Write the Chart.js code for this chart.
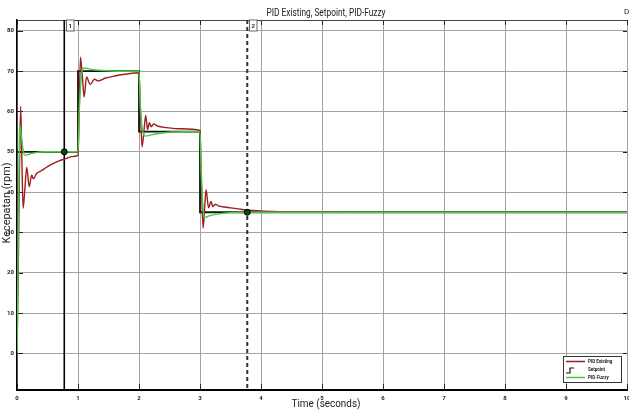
<!DOCTYPE html>
<html>
<head>
<meta charset="utf-8">
<script src="https://cdn.jsdelivr.net/npm/chart.js@4.4.1/dist/chart.umd.min.js"></script>
<style>
  html, body { margin: 0; padding: 0; background: #fff; }
  canvas { display: block; }
</style>
</head>
<body>
<canvas id="c" width="629" height="412"></canvas>
<script>
// Labels
const chartTitle = 'PID Existing, Setpoint, PID-Fuzzy';
const xAxisTitle = 'Time (seconds)';
const yAxisTitle = 'Kecepatan (rpm)';
const seriesNames = ['PID Existing', 'Setpoint', 'PID-Fuzzy'];

// Axis ticks
const xTicks = [0, 1, 2, 3, 4, 5, 6, 7, 8, 9, 10];
const yTicks = [0, 10, 20, 30, 40, 50, 60, 70, 80];

// Setpoint steps (value holds from each time onward)
const setpointTime  = [0, 1, 2, 3, 10];
const setpointValue = [50, 70, 55, 35, 35];

// PID Existing response
const pidTime  = [0, 0.02, 0.04, 0.06, 0.08, 0.1, 0.13, 0.16, 0.2, 0.24, 0.27, 0.32, 0.4, 0.5, 0.6, 0.7, 0.8, 0.9, 1.0,
                  1.02, 1.04, 1.07, 1.1, 1.14, 1.2, 1.27, 1.33, 1.45, 1.6, 1.8, 2.0,
                  2.02, 2.05, 2.08, 2.11, 2.14, 2.17, 2.2, 2.24, 2.3, 2.45, 2.7, 3.0,
                  3.02, 3.05, 3.08, 3.1, 3.14, 3.18, 3.21, 3.25, 3.3, 3.4, 3.6, 3.8, 4.2, 4.8, 5.5, 10];
const pidValue = [0, 20, 45, 61.3, 48, 36, 41, 46.2, 41.3, 44.2, 43.3, 44.6, 45.3, 46.3, 47.1, 47.8, 48.3, 48.8, 49.1,
                  60, 73.5, 69, 63.6, 68.6, 66.7, 68.0, 67.6, 68.3, 68.8, 69.3, 69.6,
                  62, 51.2, 55, 59, 55.5, 57.2, 56.2, 56.9, 56.4, 56.0, 55.7, 55.3,
                  45, 31, 37, 40.6, 36.1, 37.7, 36.4, 37, 36.6, 36.3, 35.9, 35.5, 35.2, 35.05, 35, 35];

// PID-Fuzzy response
const fuzzyTime  = [0, 0.01, 0.025, 0.04, 0.05, 0.07, 0.1, 0.13, 0.2, 0.3, 0.45, 1.0,
                    1.02, 1.05, 1.08, 1.11, 1.2, 1.3, 1.5, 1.7, 2.0,
                    2.02, 2.05, 2.08, 2.1, 2.2, 2.35, 2.55, 2.8, 3.0,
                    3.02, 3.05, 3.08, 3.15, 3.3, 3.5, 3.8, 10];
const fuzzyValue = [0, 12, 35, 54, 56.6, 54, 50.5, 49.1, 49.4, 49.8, 50, 50,
                    60, 68, 70.6, 70.8, 70.5, 70.3, 70.1, 70, 70,
                    62, 56, 54.2, 53.9, 54.2, 54.6, 54.9, 55, 55,
                    45, 36, 33.7, 34.1, 34.6, 34.9, 35, 35];

// Measurement cursors
const cursorTime   = [0.775, 3.775];
const cursorValue  = [50, 35];
const cursorLabels = ['1', '2'];

const pts = (xs, ys) => xs.map((x, i) => ({ x, y: ys[i] }));

const RED = '#9c1e1e';
const GREEN = '#45cc45';
const BLACK = '#111111';
const FONT = 'Roboto, "Liberation Sans", Arial, sans-serif';

function fittedText(ctx, text, cx, cy, font, maxW, color, rotate) {
  ctx.save();
  ctx.font = font;
  ctx.fillStyle = color;
  ctx.textAlign = 'center';
  ctx.textBaseline = 'middle';
  const w = ctx.measureText(text).width;
  const sx = w > maxW ? maxW / w : 1;
  ctx.translate(cx, cy);
  if (rotate) ctx.rotate(rotate);
  ctx.scale(sx, 1);
  ctx.fillText(text, 0, 0);
  ctx.restore();
}

const decor = {
  id: 'decor',
  beforeDraw(chart) {
    const ctx = chart.ctx;
    ctx.save();
    ctx.fillStyle = '#fff';
    ctx.fillRect(0, 0, chart.width, chart.height);
    ctx.restore();
  },
  beforeDatasetsDraw(chart) {
    const { ctx, chartArea: a, scales } = chart;
    ctx.save();
    // inward tick marks
    ctx.strokeStyle = '#222';
    ctx.lineWidth = 1;
    yTicks.forEach(v => {
      const y = Math.round(scales.y.getPixelForValue(v)) + 0.5;
      ctx.beginPath(); ctx.moveTo(a.left, y); ctx.lineTo(a.left + 6, y); ctx.stroke();
      ctx.beginPath(); ctx.moveTo(a.right, y); ctx.lineTo(a.right - 4, y); ctx.stroke();
    });
    xTicks.forEach(v => {
      const x = Math.round(scales.x.getPixelForValue(v)) + 0.5;
      ctx.beginPath(); ctx.moveTo(x, a.bottom); ctx.lineTo(x, a.bottom - 6); ctx.stroke();
      ctx.beginPath(); ctx.moveTo(x, a.top); ctx.lineTo(x, a.top + 5); ctx.stroke();
    });
    // top frame edge
    ctx.strokeStyle = '#444';
    ctx.beginPath(); ctx.moveTo(a.left, a.top + 0.5); ctx.lineTo(a.right, a.top + 0.5); ctx.stroke();
    // cursors
    cursorTime.forEach((t, i) => {
      const x = scales.x.getPixelForValue(t);
      ctx.save();
      if (i === 0) {
        ctx.strokeStyle = '#000';
        ctx.lineWidth = 1.6;
      } else {
        ctx.strokeStyle = '#333';
        ctx.lineWidth = 2;
        ctx.setLineDash([4, 3]);
      }
      ctx.beginPath(); ctx.moveTo(x, a.top); ctx.lineTo(x, a.bottom); ctx.stroke();
      ctx.restore();
    });
    ctx.restore();
  },
  afterDraw(chart) {
    const { ctx, chartArea: a, scales } = chart;
    ctx.save();
    // cursor tags
    cursorTime.forEach((t, i) => {
      const x = Math.round(scales.x.getPixelForValue(t)) + 2.5;
      ctx.fillStyle = '#fff';
      ctx.strokeStyle = '#666';
      ctx.lineWidth = 1;
      ctx.fillRect(x, a.top, 7.5, 11);
      ctx.strokeRect(x, a.top, 7.5, 11);
      ctx.fillStyle = '#222';
      ctx.font = 'bold 6px ' + FONT;
      ctx.textAlign = 'center';
      ctx.textBaseline = 'middle';
      ctx.fillText(cursorLabels[i], x + 3.75, a.top + 6);
    });
    // titles
    fittedText(ctx, chartTitle, 326, 13, '10px ' + FONT, 119, '#222');
    fittedText(ctx, xAxisTitle, 326, 404, '11px ' + FONT, 69, '#222');
    fittedText(ctx, yAxisTitle, 7.5, 203, '11px ' + FONT, 81, '#222', -Math.PI / 2);
    ctx.font = '8px ' + FONT;
    ctx.fillStyle = '#222';
    ctx.textBaseline = 'middle';
    ctx.textAlign = 'left';
    ctx.fillText('D', 624, 12);

    // legend
    const lx = 563.5, ly = 356.5, lw = 58, lh = 26;
    ctx.fillStyle = '#fff';
    ctx.fillRect(lx, ly, lw, lh);
    ctx.strokeStyle = '#333';
    ctx.lineWidth = 1;
    ctx.strokeRect(lx, ly, lw, lh);
    ctx.lineWidth = 1.5;
    ctx.strokeStyle = RED;
    ctx.beginPath(); ctx.moveTo(566, 361.5); ctx.lineTo(585, 361.5); ctx.stroke();
    ctx.strokeStyle = BLACK;
    ctx.lineWidth = 1.2;
    ctx.beginPath(); ctx.moveTo(566, 373); ctx.lineTo(570, 373); ctx.lineTo(570, 368); ctx.lineTo(574, 368); ctx.stroke();
    ctx.strokeStyle = GREEN;
    ctx.lineWidth = 1.5;
    ctx.beginPath(); ctx.moveTo(566, 377.5); ctx.lineTo(585, 377.5); ctx.stroke();
    ctx.fillStyle = '#222';
    ctx.font = 'bold 4.5px ' + FONT;
    ctx.textAlign = 'left';
    ctx.fillText(seriesNames[0], 588, 362);
    ctx.fillText(seriesNames[1], 588, 369.5);
    ctx.fillText(seriesNames[2], 588, 377.5);
    ctx.restore();
  }
};

new Chart(document.getElementById('c'), {
  type: 'line',
  data: {
    datasets: [
      {
        type: 'scatter',
        label: 'cursor',
        data: pts(cursorTime, cursorValue),
        pointRadius: 3,
        pointBackgroundColor: '#0b4a0b',
        pointBorderColor: '#000',
        pointBorderWidth: 1,
        showLine: false,
        order: 0
      },
      {
        label: seriesNames[2],
        data: pts(fuzzyTime, fuzzyValue),
        borderColor: GREEN,
        borderWidth: 1.4,
        pointRadius: 0,
        cubicInterpolationMode: 'monotone',
        order: 1
      },
      {
        label: seriesNames[0],
        data: pts(pidTime, pidValue),
        borderColor: RED,
        borderWidth: 1.4,
        pointRadius: 0,
        cubicInterpolationMode: 'monotone',
        order: 2
      },
      {
        label: seriesNames[1],
        data: pts(setpointTime, setpointValue),
        borderColor: BLACK,
        borderWidth: 1.8,
        pointRadius: 0,
        stepped: 'before',
        order: 3
      }
    ]
  },
  options: {
    responsive: false,
    animation: false,
    events: [],
    layout: { autoPadding: false, padding: { top: 20, right: 2, left: 0, bottom: 0 } },
    plugins: {
      legend: { display: false },
      title: { display: false },
      tooltip: { enabled: false }
    },
    scales: {
      x: {
        type: 'linear',
        min: 0,
        max: 10,
        afterBuildTicks: s => { s.ticks = xTicks.map(v => ({ value: v })); },
        afterFit: s => { s.height = 22; s.paddingLeft = 0; s.paddingRight = 0; },
        grid: { color: '#a3a3a3', lineWidth: 1, drawTicks: false },
        border: { color: '#000', width: 2 },
        ticks: {
          padding: 5,
          autoSkip: false,
          maxRotation: 0,
          color: '#222',
          font: { family: FONT, size: 6, weight: 'bold' }
        }
      },
      y: {
        type: 'linear',
        min: -9.1,
        max: 82.7,
        afterBuildTicks: s => { s.ticks = yTicks.map(v => ({ value: v })); },
        afterFit: s => { s.width = 17; s.paddingTop = 0; s.paddingBottom = 0; },
        grid: { color: '#a3a3a3', lineWidth: 1, drawTicks: false },
        border: { color: '#000', width: 1.5 },
        ticks: {
          padding: 3,
          color: '#222',
          font: { family: FONT, size: 6, weight: 'bold' }
        }
      }
    }
  },
  plugins: [decor]
});
</script>
</body>
</html>
